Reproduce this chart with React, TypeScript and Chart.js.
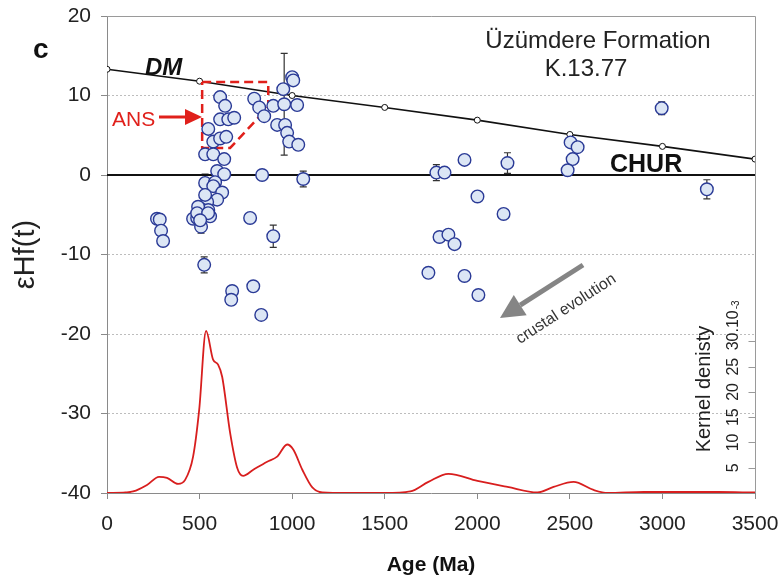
import React, { useEffect, useRef } from 'react';
import { Chart, registerables } from 'chart.js';

Chart.register(...registerables);

// ---- Data ----
const ageMa = [
  611, 638, 611, 655, 687, 547, 574, 611, 644, 530, 574, 633, 595, 633, 530, 584, 574, 622,
  595, 541, 503, 547, 465, 487, 557, 508, 270, 285, 292, 303, 525, 676, 671, 790, 833, 773,
  898, 838, 1060, 795, 822, 849, 952, 1000, 1006, 898, 957, 1027, 919, 962, 973, 984, 1033,
  1779, 1823, 1931, 2163, 2504, 2542, 2515, 2488, 2996, 3240, 2001, 2142, 1796, 1844, 1877,
  1736, 1931, 2006, 492, 487, 546, 503, 530,
];
const epsHf = [
  9.8, 8.7, 7.0, 7.0, 7.2, 5.8, 4.2, 4.6, 4.8, 2.6, 2.6, 2.0, 0.5, 0.1, -1.0, -0.9, -1.4, -2.2,
  -3.1, -3.4, -4.2, -4.4, -5.5, -5.4, -5.2, -6.5, -5.5, -5.6, -7.0, -8.3, -11.3, -14.6, -15.7, -14.0, -17.6, -5.4,
  -7.7, 0.0, -0.5, 9.6, 8.5, 7.4, 10.8, 12.3, 11.9, 8.7, 8.9, 8.8, 6.3, 6.3, 5.3, 4.2, 3.8,
  0.3, 0.3, 1.9, 1.5, 4.1, 3.5, 2.0, 0.6, 8.4, -1.8, -2.7, -4.9, -7.8, -7.5, -8.7,
  -12.3, -12.7, -15.1, -4.0, -4.8, -4.8, -5.7, -2.5,
];
const epsErr = [
  0, 0, 0, 0, 0, 0, 0, 0, 0, 0, 0, 0, 0, 0, 1.1, 0, 0, 0,
  0, 0, 0, 0, 0, 0, 0, 0.8, 0, 0, 0, 0.6, 1.0, 0, 0, 0, 0, 0,
  1.4, 0, 1.0, 0, 0, 0, 0, 0, 0, 0, 6.4, 0, 0, 0, 0, 0, 0,
  1.0, 0, 0, 1.3, 0, 0, 0, 0, 0.8, 1.2, 0, 0, 0, 0, 0,
  0, 0, 0, 0, 0, 0, 0, 0,
];

const dmAge = [0, 500, 1000, 1500, 2000, 2500, 3000, 3500];
const dmEps = [13.3, 11.8, 10.0, 8.5, 6.9, 5.1, 3.6, 2.0];

const churAge = [0, 3500];
const churEps = [0, 0];

const kdeAge = [0, 100, 141, 216, 281, 324, 384, 422, 465, 498, 535, 573, 600, 622, 665, 703, 735, 790, 865, 919, 973, 1006, 1055, 1109, 1163, 1300, 1500, 1638, 1736, 1844, 2001, 2163, 2325, 2412, 2520, 2628, 2704, 2900, 3100, 3300, 3500];
const kdeDensity = [0, 0.1, 0.3, 1.6, 3.2, 3.0, 1.8, 2.6, 7.2, 16.5, 32.1, 26.4, 25.4, 23.0, 11.9, 5.0, 3.4, 4.6, 6.2, 7.2, 9.6, 8.6, 4.6, 1.1, 0.1, 0, 0, 0.3, 2.2, 3.8, 2.4, 1.2, 0.1, 1.2, 2.2, 0.6, 0, 0.2, 0.2, 0.2, 0.1];

const ansAge = [514, 871, 871, 665, 514, 514];
const ansEps = [11.7, 11.7, 8.55, 3.4, 3.4, 11.7];

const xTickValues = [0, 500, 1000, 1500, 2000, 2500, 3000, 3500];
const yTickValues = [20, 10, 0, -10, -20, -30, -40];
const densityTicks = [5, 10, 15, 20, 25, 30];

const FONT = "'Liberation Sans', Arial, Helvetica, sans-serif";
const RED = '#e0201b';

function drawArrow(ctx: CanvasRenderingContext2D, x1: number, y1: number, x2: number, y2: number,
  shaftW: number, headLen: number, headHalf: number, color: string) {
  const dx = x2 - x1, dy = y2 - y1;
  const len = Math.hypot(dx, dy);
  const ux = dx / len, uy = dy / len;
  const bx = x2 - ux * headLen, by = y2 - uy * headLen;
  ctx.save();
  ctx.strokeStyle = color; ctx.fillStyle = color; ctx.lineWidth = shaftW; ctx.setLineDash([]);
  ctx.beginPath(); ctx.moveTo(x1, y1); ctx.lineTo(bx, by); ctx.stroke();
  ctx.beginPath();
  ctx.moveTo(x2, y2);
  ctx.lineTo(bx - uy * headHalf, by + ux * headHalf);
  ctx.lineTo(bx + uy * headHalf, by - ux * headHalf);
  ctx.closePath(); ctx.fill();
  ctx.restore();
}

const framePlugin = {
  id: 'frame',
  beforeDatasetsDraw(chart: any) {
    const { ctx, chartArea: a } = chart;
    ctx.save();
    ctx.strokeStyle = '#9a9a9a'; ctx.lineWidth = 1;
    ctx.beginPath();
    ctx.moveTo(a.left, a.top + 0.5); ctx.lineTo(a.right + 0.5, a.top + 0.5); ctx.lineTo(a.right + 0.5, a.bottom);
    ctx.stroke();
    ctx.restore();
  },
};

const errorBarPlugin = {
  id: 'errorBars',
  beforeDatasetsDraw(chart: any) {
    const { ctx } = chart;
    const x = chart.scales.x, y = chart.scales.y;
    ctx.save();
    ctx.strokeStyle = '#333'; ctx.lineWidth = 1.2;
    ageMa.forEach((a, i) => {
      const e = epsErr[i];
      if (!e) return;
      const px = x.getPixelForValue(a);
      const top = y.getPixelForValue(epsHf[i] + e);
      const bot = y.getPixelForValue(epsHf[i] - e);
      ctx.beginPath();
      ctx.moveTo(px, top); ctx.lineTo(px, bot);
      ctx.moveTo(px - 3.5, top); ctx.lineTo(px + 3.5, top);
      ctx.moveTo(px - 3.5, bot); ctx.lineTo(px + 3.5, bot);
      ctx.stroke();
    });
    ctx.restore();
  },
};

const annotationPlugin = {
  id: 'annotations',
  afterDraw(chart: any) {
    const { ctx, chartArea: a } = chart;
    const yK = chart.scales.yK;
    ctx.save();
    ctx.textAlign = 'left';
    ctx.textBaseline = 'alphabetic';

    // panel letter
    ctx.fillStyle = '#111';
    ctx.font = `bold 28px ${FONT}`;
    ctx.fillText('c', 33, 58);

    // DM label
    ctx.font = `italic bold 24px ${FONT}`;
    ctx.fillText('DM', 145, 75);

    // CHUR label
    ctx.font = `bold 25px ${FONT}`;
    ctx.fillText('CHUR', 610, 172);

    // Title text
    ctx.textAlign = 'center';
    ctx.fillStyle = '#222';
    ctx.font = `24px ${FONT}`;
    ctx.fillText('Üzümdere Formation', 598, 48);
    ctx.fillText('K.13.77', 586, 76);

    // ANS label + arrow
    ctx.textAlign = 'left';
    ctx.fillStyle = RED;
    ctx.font = `21px ${FONT}`;
    ctx.fillText('ANS', 112, 126);
    drawArrow(ctx, 159, 117, 202, 117, 3, 17, 8, RED);

    // crustal evolution arrow
    drawArrow(ctx, 583, 265, 500, 318, 5, 24, 12, '#858585');
    ctx.save();
    ctx.translate(566, 309);
    ctx.rotate(-33 * Math.PI / 180);
    ctx.fillStyle = '#333';
    ctx.font = `16px ${FONT}`;
    ctx.textAlign = 'center';
    ctx.textBaseline = 'middle';
    ctx.fillText('crustal evolution', 0, 0);
    ctx.restore();

    // Kernel density axis (inside the plot, at the right edge)
    ctx.strokeStyle = '#9a9a9a';
    ctx.lineWidth = 1;
    const rx = a.right + 0.5;
    densityTicks.forEach((v) => {
      const py = Math.round(yK.getPixelForValue(v)) + 0.5;
      ctx.beginPath(); ctx.moveTo(rx - 7, py); ctx.lineTo(rx, py); ctx.stroke();
    });
    ctx.fillStyle = '#222';
    densityTicks.forEach((v) => {
      const py = yK.getPixelForValue(v);
      ctx.save();
      ctx.translate(a.right - 21, py);
      ctx.rotate(-Math.PI / 2);
      ctx.font = `16px ${FONT}`;
      ctx.textBaseline = 'middle';
      ctx.textAlign = 'center';
      const s = String(v);
      ctx.fillText(s, 0, 0);
      if (v === densityTicks[densityTicks.length - 1]) {
        const w = ctx.measureText(s).width;
        ctx.textAlign = 'left';
        ctx.fillText('.10', w / 2, 0);
        const w2 = ctx.measureText('.10').width;
        ctx.font = `10px ${FONT}`;
        ctx.fillText('-3', w / 2 + w2 + 1, 2);
      }
      ctx.restore();
    });
    ctx.save();
    ctx.translate(a.right - 51, 389);
    ctx.rotate(-Math.PI / 2);
    ctx.font = `20px ${FONT}`;
    ctx.textAlign = 'center';
    ctx.textBaseline = 'middle';
    ctx.fillStyle = '#222';
    ctx.fillText('Kernel denisty', 0, 0);
    ctx.restore();

    ctx.restore();
  },
};

export default function App() {
  const canvasRef = useRef<HTMLCanvasElement | null>(null);

  useEffect(() => {
    const canvas = canvasRef.current;
    if (!canvas) return;
    const chart = new Chart(canvas, {
      type: 'scatter',
      data: {
        datasets: [
          {
            label: 'Zircon εHf(t)',
            data: ageMa.map((a, i) => ({ x: a, y: epsHf[i] })),
            pointRadius: 6.3,
            pointBackgroundColor: '#dce6f5',
            pointBorderColor: '#2a3a96',
            pointBorderWidth: 1.4,
            order: 0,
          },
          {
            label: 'DM',
            data: dmAge.map((a, i) => ({ x: a, y: dmEps[i] })),
            showLine: true,
            borderColor: '#111',
            borderWidth: 1.6,
            pointRadius: 3,
            pointBackgroundColor: '#fff',
            pointBorderColor: '#111',
            pointBorderWidth: 1,
            order: 2,
          },
          {
            label: 'CHUR',
            data: churAge.map((a, i) => ({ x: a, y: churEps[i] })),
            showLine: true,
            borderColor: '#111',
            borderWidth: 2.2,
            pointRadius: 0,
            order: 3,
          },
          {
            label: 'ANS',
            data: ansAge.map((a, i) => ({ x: a, y: ansEps[i] })),
            showLine: true,
            borderColor: RED,
            borderWidth: 2.5,
            borderDash: [9, 5],
            pointRadius: 0,
            order: 1,
          },
          {
            label: 'Kernel density',
            data: kdeAge.map((a, i) => ({ x: a, y: kdeDensity[i] })),
            yAxisID: 'yK',
            showLine: true,
            borderColor: '#d81e1e',
            borderWidth: 1.8,
            pointRadius: 0,
            cubicInterpolationMode: 'monotone',
            order: 4,
          },
        ],
      },
      options: {
        responsive: false,
        animation: false,
        layout: { padding: { left: 0, right: 27, top: 16, bottom: 0 } },
        plugins: { legend: { display: false }, tooltip: { enabled: false } },
        scales: {
          x: {
            type: 'linear',
            min: 0,
            max: 3500,
            afterBuildTicks: (scale: any) => { scale.ticks = xTickValues.map((v) => ({ value: v })); },
            afterFit: (scale: any) => {
              scale.height = 88;
              scale.paddingLeft = 0; scale.paddingRight = 0;
            },
            ticks: {
              font: { family: FONT, size: 21 }, color: '#222', padding: 13,
              callback: (v: any) => String(v),
            },
            grid: { drawOnChartArea: false, drawTicks: true, tickLength: 6, color: '#8a8a8a' },
            border: { display: true, color: '#8a8a8a', width: 1 },
            title: {
              display: true,
              text: 'Age (Ma)',
              font: { family: FONT, size: 21, weight: 'bold' },
              color: '#111',
              padding: { top: 0, bottom: 3 },
            },
          },
          y: {
            type: 'linear',
            min: -40,
            max: 20,
            afterBuildTicks: (scale: any) => { scale.ticks = yTickValues.map((v) => ({ value: v })); },
            afterFit: (scale: any) => {
              scale.width = 107;
              scale.paddingTop = 0; scale.paddingBottom = 0;
            },
            ticks: {
              font: { family: FONT, size: 21 }, color: '#222', padding: 10,
              callback: (v: any) => String(v),
            },
            grid: {
              drawTicks: true,
              tickLength: 6,
              tickColor: '#8a8a8a',
              color: (c: any) => {
                const v = c.tick && c.tick.value;
                return v === 20 || v === 0 || v === -40 ? 'rgba(0,0,0,0)' : '#bdbdbd';
              },
            },
            border: { display: true, color: '#8a8a8a', width: 1, dash: [2, 2] },
            title: {
              display: true,
              text: 'εHf(t)',
              font: { family: FONT, size: 29 },
              color: '#222',
              padding: { top: 9, bottom: 0 },
            },
          },
          yK: {
            type: 'linear',
            position: 'right',
            display: false,
            min: 0,
            max: 94.4,
          },
        },
      },
      plugins: [framePlugin, errorBarPlugin, annotationPlugin],
    } as any);
    return () => chart.destroy();
  }, []);

  return (
    <div style={{ position: 'fixed', left: 0, top: 0, width: 782, height: 581, background: '#fff' }}>
      <canvas ref={canvasRef} width={782} height={581} style={{ display: 'block' }} />
    </div>
  );
}
